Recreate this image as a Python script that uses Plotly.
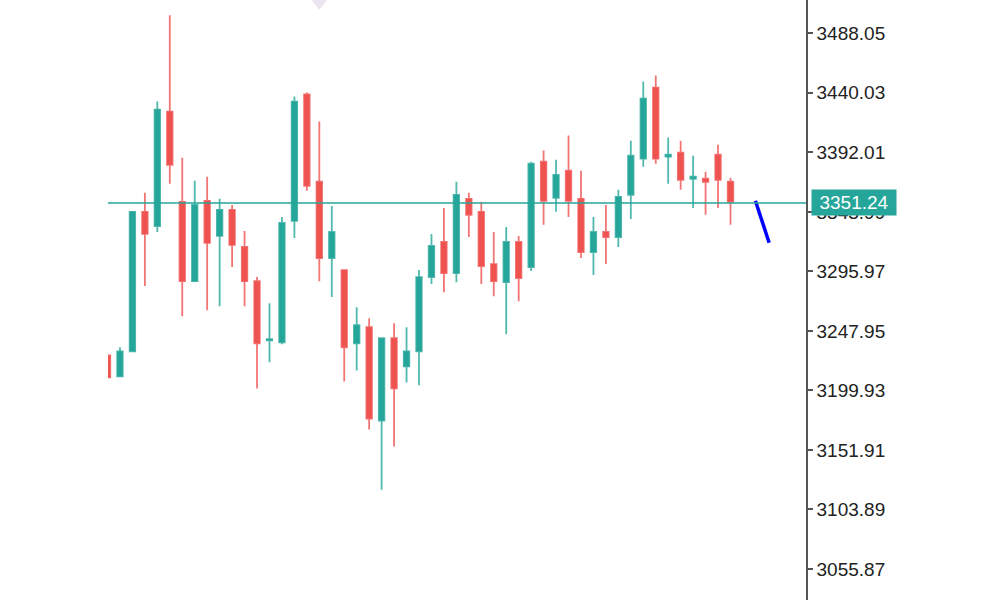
import plotly.graph_objects as go

# ---- data ----
idx = list(range(51))
opens = [3228.2, 3211.2, 3231.5, 3344.0, 3332.6, 3424.9, 3352.1, 3288.1, 3352.9, 3324.6,
         3345.6, 3315.7, 3288.1, 3240.4, 3238.8, 3336.7, 3438.7, 3368.3, 3306.7, 3297.0,
         3238.0, 3250.9, 3175.6, 3242.0, 3219.3, 3231.5, 3291.4, 3319.7, 3294.6, 3354.5,
         3344.0, 3301.9, 3287.3, 3319.7, 3299.5, 3384.5, 3355.3, 3377.2, 3354.5, 3311.6,
         3327.8, 3323.7, 3357.7, 3386.9, 3444.3, 3388.5, 3391.7, 3370.7, 3370.7, 3390.1,
         3368.3]
highs = [3229.0, 3234.7, 3344.5, 3359.4, 3433.0, 3502.6, 3387.7, 3369.1, 3372.3, 3354.5,
         3349.6, 3328.6, 3291.4, 3270.3, 3339.9, 3437.1, 3440.3, 3416.8, 3348.8, 3297.5,
         3267.1, 3258.2, 3242.5, 3254.1, 3250.9, 3297.0, 3326.2, 3347.2, 3368.3, 3359.4,
         3352.1, 3327.8, 3331.8, 3324.6, 3384.5, 3393.4, 3386.1, 3405.5, 3377.2, 3339.9,
         3349.6, 3361.8, 3401.4, 3449.2, 3454.1, 3403.9, 3401.4, 3389.3, 3376.4, 3398.2,
         3371.5]
lows = [3209.6, 3210.5, 3230.7, 3284.1, 3327.8, 3366.6, 3259.8, 3287.5, 3264.7, 3267.9,
        3299.5, 3267.9, 3201.5, 3222.6, 3237.1, 3322.9, 3361.0, 3288.1, 3275.2, 3207.2,
        3216.1, 3168.3, 3119.8, 3154.6, 3206.4, 3204.0, 3285.7, 3279.2, 3287.3, 3323.7,
        3285.7, 3276.0, 3245.2, 3271.9, 3296.2, 3333.5, 3344.0, 3339.9, 3306.7, 3293.0,
        3301.9, 3315.7, 3338.3, 3380.4, 3382.8, 3366.6, 3361.8, 3347.2, 3341.6, 3347.2,
        3333.5]
closes = [3210.4, 3231.5, 3344.0, 3326.2, 3426.5, 3382.0, 3288.1, 3349.6, 3318.9, 3345.6,
          3317.3, 3288.1, 3238.0, 3241.2, 3335.1, 3433.0, 3365.0, 3306.7, 3327.8, 3234.7,
          3252.5, 3177.2, 3242.0, 3201.5, 3231.5, 3291.4, 3316.5, 3294.6, 3357.7, 3341.6,
          3300.3, 3288.1, 3319.7, 3290.6, 3382.8, 3352.9, 3373.9, 3352.9, 3311.6, 3327.8,
          3323.7, 3356.1, 3389.3, 3435.4, 3386.9, 3390.1, 3369.9, 3372.3, 3368.3, 3369.9,
          3352.1]

tick_vals = [3055.87, 3103.89, 3151.91, 3199.93, 3247.95, 3295.97, 3343.99, 3392.01, 3440.03, 3488.05]
tick_text = ["3055.87", "3103.89", "3151.91", "3199.93", "3247.95", "3295.97", "3343.99", "3392.01", "3440.03", "3488.05"]

price_line = 3351.24
price_label = "3351.24"

forecast_x = [52, 53.1]
forecast_y = [3353.0, 3319.1]

marker_x = [17]
marker_y = [3512.5]

GREEN = "#26a69a"
RED = "#ef5350"

fig = go.Figure()

fig.add_trace(go.Candlestick(
    x=idx, open=opens, high=highs, low=lows, close=closes,
    increasing=dict(line=dict(color="rgba(38,166,154,0.8)", width=1.8), fillcolor=GREEN),
    decreasing=dict(line=dict(color="rgba(239,83,80,0.8)", width=1.8), fillcolor=RED),
    showlegend=False, hoverinfo="skip",
))

fig.add_trace(go.Scatter(
    x=forecast_x, y=forecast_y, mode="lines",
    line=dict(color="#0000ff", width=3.5), showlegend=False, hoverinfo="skip",
))

fig.add_trace(go.Scatter(
    x=marker_x, y=marker_y, mode="markers",
    marker=dict(symbol="triangle-down", size=14, color="#ebe5f0"),
    showlegend=False, hoverinfo="skip",
))

fig.add_hline(y=price_line, line=dict(color="rgba(38,166,154,0.75)", width=2))

fig.add_annotation(
    x=1, xref="paper", y=price_line, yref="y",
    xanchor="left", yanchor="middle", xshift=5,
    text=price_label, showarrow=False, width=80,
    font=dict(family="Liberation Sans, Arial, sans-serif", size=19, color="white"),
    bgcolor=GREEN, borderpad=2,
)

fig.update_layout(
    width=1000, height=600,
    margin=dict(l=108, r=194, t=0, b=0),
    paper_bgcolor="white", plot_bgcolor="white",
    boxgap=0.37,
    xaxis=dict(range=[0.04, 56.06], visible=False, rangeslider=dict(visible=False),
               showgrid=False, zeroline=False),
    yaxis=dict(range=[3030.84, 3514.92], side="right", showgrid=False, zeroline=False,
               showline=True, linecolor="#555555", linewidth=1.5,
               ticks="outside", ticklen=5, tickcolor="#555555", tickwidth=1.5,
               tickvals=tick_vals, ticktext=tick_text,
               tickfont=dict(family="Liberation Sans, Arial, sans-serif", size=19, color="#222222")),
)

fig.write_html("out.html",
               config={"displayModeBar": False},
               post_script="document.body.style.margin='0';document.body.style.overflow='hidden';")
